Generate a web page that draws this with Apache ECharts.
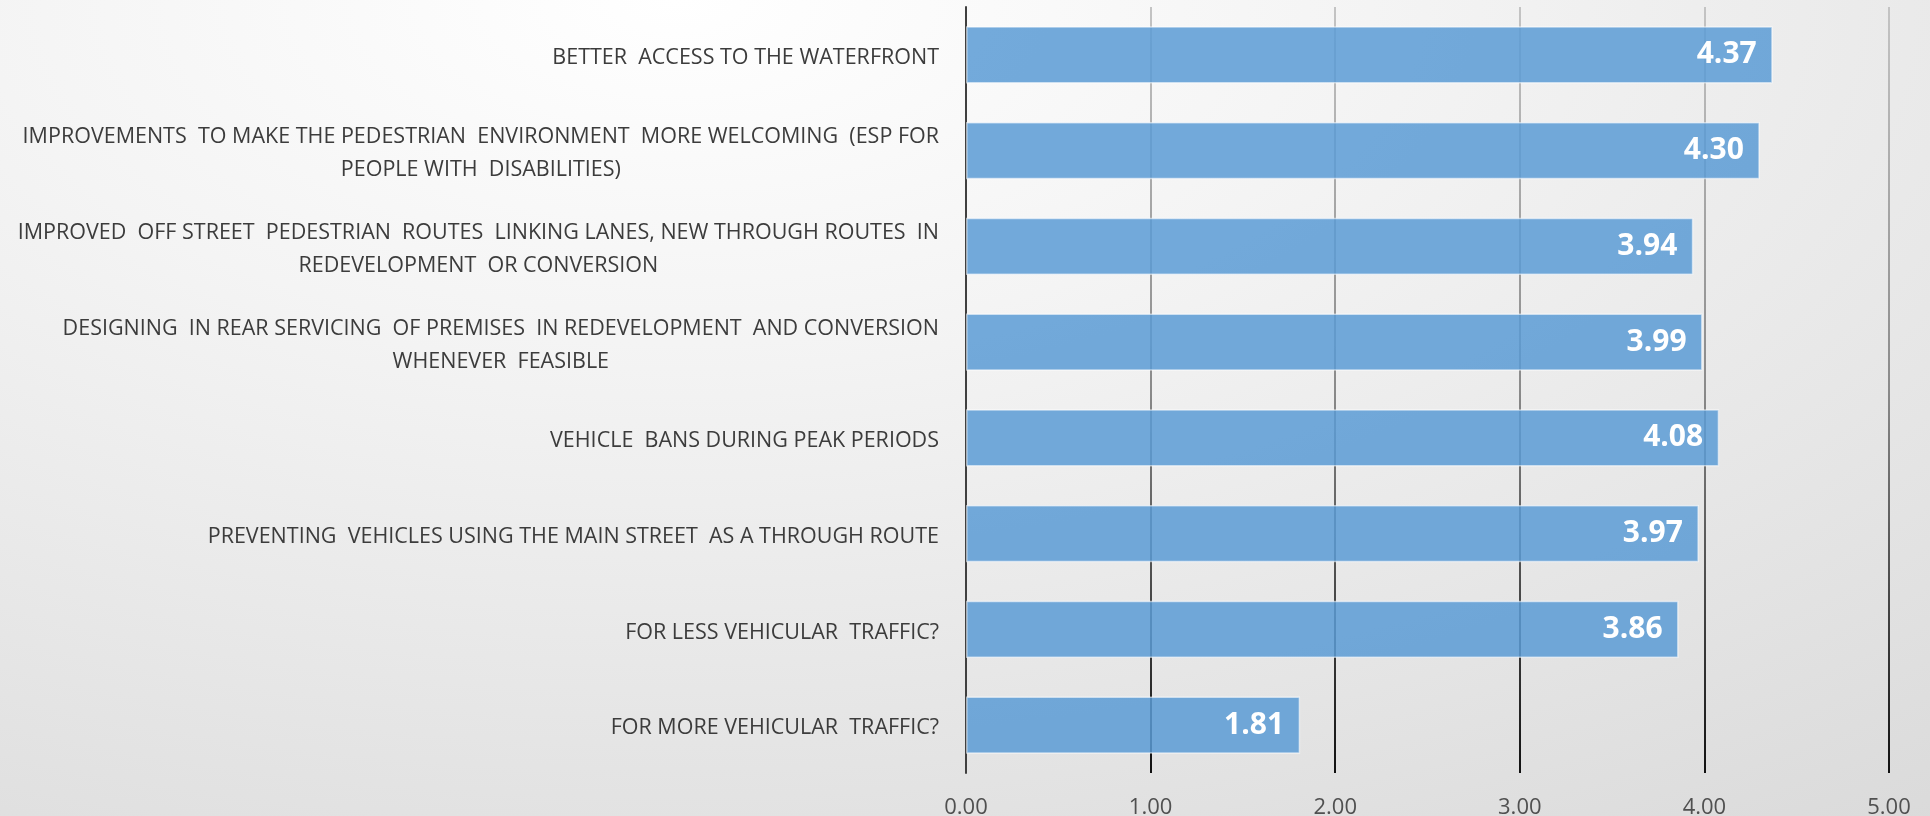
<!DOCTYPE html>
<html lang="en">
<head>
    <meta charset="UTF-8">
    <title>Priorities</title>
    <script src="https://cdn.jsdelivr.net/npm/echarts@6/dist/echarts.min.js"></script>
    <style>
        html, body { margin: 0; padding: 0; }
        body {
            background: radial-gradient(ellipse 120% 140% at 35% 0%, #ffffff 0%, #f4f4f4 30%, #d6d6d6 100%);
        }
    </style>
</head>
<body>
<div id="chart" style="width: 1930px;height:816px;"></div>
<script>
    var categories = [
        'BETTER  ACCESS TO THE WATERFRONT',
        'IMPROVEMENTS  TO MAKE THE PEDESTRIAN  ENVIRONMENT  MORE WELCOMING  (ESP FOR\nPEOPLE WITH  DISABILITIES)',
        'IMPROVED  OFF STREET  PEDESTRIAN  ROUTES  LINKING LANES, NEW THROUGH ROUTES  IN\nREDEVELOPMENT  OR CONVERSION',
        'DESIGNING  IN REAR SERVICING  OF PREMISES  IN REDEVELOPMENT  AND CONVERSION\nWHENEVER  FEASIBLE',
        'VEHICLE  BANS DURING PEAK PERIODS',
        'PREVENTING  VEHICLES USING THE MAIN STREET  AS A THROUGH ROUTE',
        'FOR LESS VEHICULAR  TRAFFIC?',
        'FOR MORE VEHICULAR  TRAFFIC?'
    ];
    var scores = [4.37, 4.30, 3.94, 3.99, 4.08, 3.97, 3.86, 1.81];
    var ticks = [0, 1, 2, 3, 4, 5];

    var chart = echarts.init(document.getElementById('chart'));
    var option = {
        backgroundColor: 'transparent',
        textStyle: { fontFamily: 'Open Sans' },
        grid: { left: 966, right: 41, top: 7, bottom: 43, containLabel: false, outerBoundsMode: 'none' },
        xAxis: {
            type: 'value',
            min: ticks[0],
            max: ticks[ticks.length - 1],
            interval: 1,
            axisLine: { show: false },
            axisTick: { show: false },
            axisLabel: {
                margin: 24,
                fontSize: 22,
                color: '#505050',
                formatter: function (v) { return v.toFixed(2); }
            },
            splitLine: {
                lineStyle: {
                    width: 2,
                    color: new echarts.graphic.LinearGradient(0, 0, 0, 1, [
                        { offset: 0, color: '#c4c4c4' },
                        { offset: 0.5, color: '#8a8a8a' },
                        { offset: 0.8, color: '#404040' },
                        { offset: 1, color: '#111111' }
                    ])
                }
            }
        },
        yAxis: {
            type: 'category',
            inverse: true,
            data: categories,
            axisLine: { lineStyle: { color: '#404040', width: 2 } },
            axisTick: { show: false },
            axisLabel: {
                margin: 27,
                fontSize: 21.5,
                lineHeight: 33,
                padding: [6, 0, 0, 0],
                color: '#3c3c3c',
                formatter: function (v) {
                    return v.split('\n').map(function (s) { return '{c|' + s + '}'; }).join('\n');
                },
                rich: {
                    c: { align: 'center', fontSize: 21.5, lineHeight: 33, color: '#3c3c3c', fontFamily: 'Open Sans' }
                }
            }
        },
        series: [{
            type: 'bar',
            data: scores,
            barCategoryGap: '40%',
            itemStyle: {
                color: 'rgba(91,155,213,0.85)',
                borderColor: 'rgba(255,255,255,0.55)',
                borderWidth: 1.5
            },
            label: {
                show: true,
                position: 'insideRight',
                distance: 16,
                color: '#ffffff',
                fontWeight: 'bold',
                fontSize: 30,
                fontFamily: 'Open Sans',
                formatter: function (p) { return p.value.toFixed(2); }
            }
        }]
    };
    chart.setOption(option);
</script>
</body>
</html>
